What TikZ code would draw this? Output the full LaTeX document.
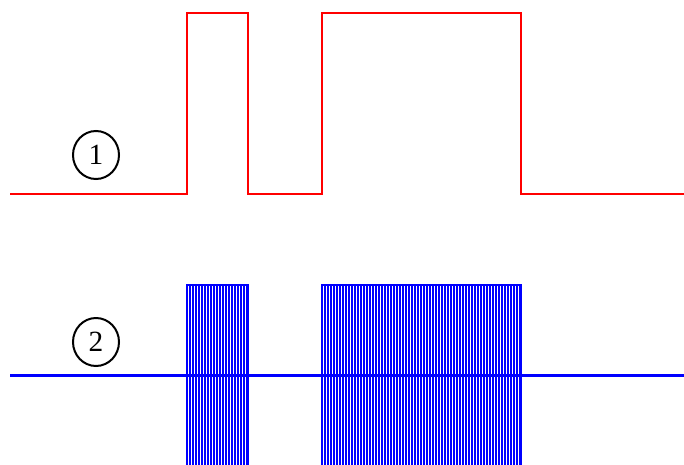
\documentclass[tikz,border=0pt]{standalone}
\usepackage{tikz}
\usepackage{fontspec}
\setmainfont{Liberation Serif}
\usetikzlibrary{shapes.geometric}
\tikzset{num/.style={draw,ellipse,line width=1.5pt,minimum width=34.5pt,minimum height=36pt,inner sep=0pt,font=\fontsize{22}{24}\selectfont}}
\begin{document}
\begin{tikzpicture}[x=0.75pt,y=-0.75pt]
		\useasboundingbox (0,0) rectangle (684,464);
		\clip (0,0) rectangle (684,464);
		% envelope
		\draw[line width=1.5pt,red] (10,194) -- (187,194) -- (187,13) -- (248,13) -- (248,194) -- (322,194) -- (322,13) -- (521,13) -- (521,194) -- (684,194);
		\node[num] (one) at (96,155) {1};
		% modulated carrier
		\foreach \x in {187,190,...,248}
			\draw[line width=0.8pt,blue] (\x,285) -- (\x,470);
		\foreach \x in {322,325,...,521}
			\draw[line width=0.8pt,blue] (\x,285) -- (\x,470);
		\draw[line width=1.5pt,blue] (187,470) -- (187,285) -- (248,285) -- (248,470);
		\draw[line width=1.5pt,blue] (322,470) -- (322,285) -- (521,285) -- (521,470);
		\draw[line width=2.25pt,blue] (10,375) -- (684,375);
		\node[num] (two) at (96,342) {2};
	\end{tikzpicture}
\end{document}
